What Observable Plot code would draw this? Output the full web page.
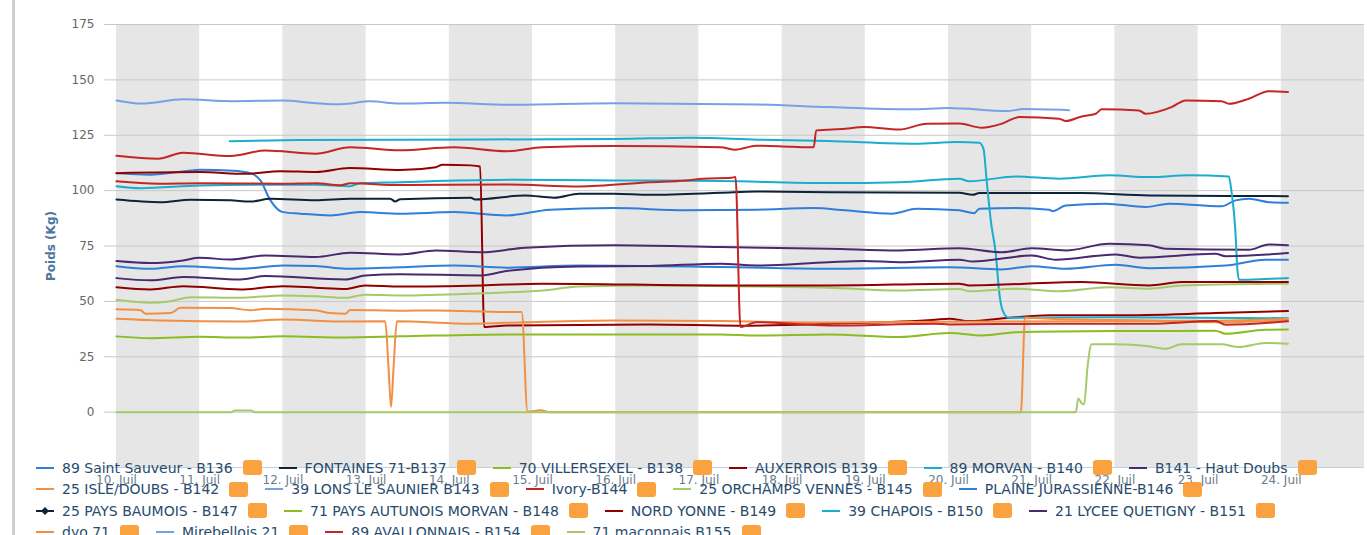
<!DOCTYPE html>
<html><head><meta charset="utf-8">
<script src="https://cdn.jsdelivr.net/npm/d3@7"></script>
<script src="https://cdn.jsdelivr.net/npm/@observablehq/plot@0.6"></script>
<style>
html,body{margin:0;padding:0;background:#fff;width:1367px;height:535px;overflow:hidden;font-family:"DejaVu Sans",sans-serif}
#wrap{position:relative;width:1367px;height:535px}
#border{position:absolute;left:12px;top:0;width:3px;height:535px;background:#cfcfcf}
#chart{position:absolute;left:0;top:0}
#legend{position:absolute;left:36px;top:457px;width:1322px;display:flex;flex-wrap:wrap;font-size:14px;color:#274b6d}
.item{display:flex;align-items:center;height:21.5px;margin-right:17px;white-space:nowrap}
.sym{width:18px;height:10px;margin-right:8px;display:block}
.sq{width:19px;height:15px;border-radius:3px;background:#f9a23f;margin-left:10px}
g[aria-label="y-axis label"] text{fill:#4d759e;font-weight:bold;font-size:12px}
</style>
</head><body>
<div id="wrap"><div id="border"></div><div id="chart"></div><div id="legend"></div></div>
<script>
// ---- series names / colours (legend order) ----
const seriesNames = ["89 Saint Sauveur - B136","FONTAINES 71-B137","70 VILLERSEXEL - B138","AUXERROIS B139","89 MORVAN - B140","B141 - Haut Doubs","25 ISLE/DOUBS - B142","39 LONS LE SAUNIER B143","Ivory-B144","25 ORCHAMPS VENNES - B145","PLAINE JURASSIENNE-B146","25 PAYS BAUMOIS - B147","71 PAYS AUTUNOIS MORVAN - B148","NORD YONNE - B149","39 CHAPOIS - B150","21 LYCEE QUETIGNY - B151","dyo 71","Mirebellois 21","89 AVALLONNAIS - B154","71 maconnais B155"];
const seriesColors = ["#2f7ed8","#0d233a","#8bbc21","#910000","#1aadce","#492970","#f28f43","#77a1e5","#c42525","#a6c96a","#2f7ed8","#0d233a","#8bbc21","#910000","#1aadce","#492970","#f28f43","#77a1e5","#c42525","#a6c96a"];

// ---- values: [days since 10 Juil 00:00, kg] ----
const b136 = [[0,107.9],[0.4,107.2],[0.9,109.1],[1.0,109.4],[1.4,109.0],[1.61,107.9],[1.73,104.6],[1.85,95.6],[2.0,90.3],[2.21,89.6],[2.57,88.8],[2.93,90.3],[3.41,89.6],[4.06,90.3],[4.69,88.8],[5.21,91.4],[5.98,92.1],[6.84,91.1],[7.69,91.4],[8.38,92.1],[8.76,91.1],[9.32,89.6],[9.62,91.8],[10.13,91.1],[10.31,89.8],[10.37,91.8],[10.81,92.1],[11.21,91.4],[11.25,90.7],[11.41,93.3],[11.89,94.1],[12.37,92.6],[12.65,94.1],[13.28,92.9],[13.45,95.6],[13.61,96.3],[13.85,94.8],[14.08,94.5]];
const b137 = [[0,96],[0.53,94.8],[0.89,95.9],[1.37,95.6],[1.61,95.1],[1.85,96.3],[2.39,95.6],[2.81,96.3],[3.29,96.3],[3.35,95.1],[3.41,96.1],[4.26,96.8],[4.31,96.0],[4.91,97.8],[5.26,96.8],[5.56,98.6],[5.98,98.6],[6.41,98.1],[7.26,99.0],[7.69,99.6],[8.56,99.3],[10.13,99.0],[10.29,98.1],[10.37,98.9],[11.6,98.9],[12.41,97.8],[14.08,97.5]];
const b138 = [[0,34.2],[0.41,33.4],[1.0,34.0],[1.49,33.7],[2.0,34.2],[2.75,33.7],[3.41,34.2],[4.69,35.1],[5.98,35.1],[7.26,35.1],[7.69,34.6],[8.56,35.1],[9.41,33.9],[10.01,35.7],[10.41,34.6],[10.81,36.1],[12.01,36.6],[13.21,36.7],[13.33,35.4],[13.81,37.2],[14.08,37.3]];
const b139 = [[0,107.9],[1.0,108.4],[1.55,107.6],[1.97,108.8],[2.4,108.4],[2.8,110.2],[3.41,109.3],[3.84,110.6],[3.92,111.7],[4.26,111.4],[4.37,110.9],[4.42,38.4],[4.69,39.1],[6.41,39.6],[7.48,39.0],[8.56,39.9],[9.84,41.7],[10.01,42.2],[10.25,41.1],[10.73,42.6],[11.21,43.7],[12.01,43.7],[13.21,44.7],[14.08,45.6]];
const b140 = [[1.36,122.3],[2.2,122.8],[3.4,123.0],[6.0,123.3],[6.9,123.9],[7.7,123.0],[8.55,122.4],[9.6,121.2],[10.1,121.9],[10.37,121.6],[10.42,119],[10.46,104],[10.51,86],[10.57,71],[10.61,54],[10.65,46],[10.72,42.6],[12,42.8],[13,42.6],[14.08,42.4]];
const b141 = [[0,68.2],[0.41,67.3],[0.8,68.5],[1.0,69.7],[1.37,68.9],[1.79,70.7],[2.39,70.0],[2.81,72.0],[3.41,71.2],[3.84,73.0],[4.39,72.2],[4.91,74.2],[5.98,75.3],[7.26,74.5],[8.56,73.8],[9.41,73.0],[10.13,74.0],[10.64,72.2],[11.0,74.0],[11.41,73.0],[11.93,76.0],[12.41,75.3],[12.61,73.8],[13.61,73.3],[13.85,75.7],[14.08,75.3]];
const b142 = [[0,42.2],[0.53,41.4],[1.49,40.9],[2.0,41.8],[2.69,40.9],[3.23,41.0],[3.27,20],[3.30,2.3],[3.33,20],[3.37,41.0],[4.26,39.9],[4.91,40.6],[5.98,41.4],[7.26,41.1],[8.5,40.5],[10,40.8],[11.5,41.0],[13.0,41.2],[14.08,42.0]];
const b143 = [[0,140.7],[0.3,139.3],[0.8,141.2],[1.4,140.4],[2.0,140.7],[2.4,139.5],[2.7,139.0],[3.05,140.3],[3.4,139.3],[3.95,139.7],[4.7,138.8],[6.0,139.5],[7.7,138.9],[8.55,137.7],[9.55,136.7],[10.0,137.3],[10.7,135.9],[10.9,136.8],[11.45,136.3]];
const b144 = [[0,115.7],[0.5,114.4],[0.8,117.1],[1.37,115.6],[1.79,118.1],[2.39,116.7],[2.81,119.6],[3.41,118.2],[4.05,119.6],[4.69,117.8],[5.12,119.6],[5.98,120.1],[7.26,119.6],[7.44,118.5],[7.69,120.3],[8.12,119.8],[8.38,119.6],[8.41,127.2],[8.76,127.9],[8.98,128.7],[9.41,127.6],[9.74,130.2],[10.13,130.3],[10.4,128.4],[10.64,130.2],[10.85,133.2],[11.33,132.5],[11.41,131.4],[11.6,133.5],[11.77,134.7],[11.84,136.7],[12.29,136.2],[12.37,134.7],[12.68,137.7],[12.85,140.7],[13.28,140.4],[13.37,139.2],[13.61,141.5],[13.85,144.9],[14.08,144.5]];
const b145 = [[0,50.7],[0.41,49.4],[0.65,50.1],[0.89,51.9],[1.49,51.6],[2.0,52.7],[2.39,52.3],[2.75,51.6],[2.99,53.0],[3.41,52.7],[4.39,53.7],[5.12,54.9],[5.56,56.7],[6.41,57.2],[7.69,56.7],[8.56,56.2],[9.41,54.9],[10.13,55.6],[10.25,54.6],[10.81,55.7],[11.33,54.6],[11.93,56.4],[12.41,55.7],[12.8,57.2],[14.08,58]];
const b146 = [[0,65.9],[0.41,64.7],[0.8,65.9],[1.49,64.7],[2.0,66.2],[2.39,66.0],[2.75,64.7],[3.41,65.4],[4.05,66.2],[4.69,65.2],[5.56,66.2],[7.26,65.5],[8.56,64.7],[10.01,65.4],[10.64,64.4],[11.0,65.9],[11.41,64.7],[12.01,66.5],[12.41,65.0],[13.33,66.2],[13.81,68.8],[14.08,68.8]];
const b147 = [];
const b148 = [];
const b149 = [[0,56.4],[0.41,55.4],[0.8,56.8],[1.49,55.4],[2.0,56.8],[2.39,56.2],[2.75,55.6],[2.99,57.2],[3.41,56.7],[4.39,57.2],[5.12,58.0],[7.26,57.2],[8.56,57.2],[10.13,58.0],[10.25,57.2],[11.6,58.7],[12.41,57.2],[12.8,58.7],[14.08,58.7]];
const b150 = [[0,102],[0.29,101.1],[1.0,102.3],[2.0,102.7],[2.4,102.7],[2.81,102],[2.93,103.4],[3.41,103.8],[3.84,104.3],[4.82,104.9],[5.98,104.6],[7.26,104.3],[8.56,103.4],[9.41,103.8],[10.13,105.4],[10.25,104.2],[10.81,106.4],[11.33,105.4],[11.93,106.9],[12.41,106.1],[12.89,106.9],[13.37,106.4],[13.40,100],[13.45,80.5],[13.47,65.5],[13.49,59.8],[13.81,60.1],[14.08,60.5]];
const b151 = [[0,60.5],[0.41,59.5],[0.8,61.0],[1.49,59.9],[1.79,61.4],[2.75,59.9],[2.99,61.7],[3.41,62.3],[4.39,61.7],[4.69,63.7],[5.56,65.8],[6.41,66.0],[7.26,67.0],[7.69,66.2],[8.56,67.7],[8.98,68.2],[9.41,67.7],[10.13,68.8],[10.29,68.0],[11.0,70.7],[11.29,68.8],[12.01,71.2],[12.29,69.7],[13.21,71.5],[13.33,70.4],[14.08,71.8]];
const dyo71 = [[0,46.4],[0.29,46.0],[0.35,44.4],[0.65,44.7],[0.77,47.1],[1.37,47.0],[1.61,46.0],[1.79,46.7],[2.39,46.0],[2.57,44.7],[2.75,44.4],[2.81,46.1],[3.41,45.8],[3.84,45.9],[4.69,45.2],[4.87,45.2],[4.94,0.3],[5.1,0.8],[5.2,0],[10.87,0],[10.92,42.6],[11.21,42.2],[12.41,41.4],[13.21,40.6],[14.08,41.4]];
const mirebellois21 = [];
const b154 = [[0,104.2],[0.5,103.1],[1.0,103.3],[2.0,103.1],[2.4,103.3],[2.69,102.4],[2.81,103.3],[3.41,102.5],[4.69,102.8],[5.56,101.9],[6.41,103.8],[6.84,104.6],[7.05,105.4],[7.39,105.8],[7.44,106.2],[7.50,38.4],[7.69,40.6],[8.56,39.1],[9.84,39.9],[10.01,39.6],[11.21,39.9],[12.41,39.9],[13.21,41.1],[13.33,39.4],[14.08,41.0]];
const b155 = [[0,0],[1.38,0],[1.42,0.7],[1.62,0.7],[1.66,0],[11.53,0],[11.56,6.2],[11.6,4],[11.63,3.5],[11.67,20],[11.72,30.6],[12.01,30.6],[12.41,29.7],[12.61,28.6],[12.8,30.6],[13.28,30.6],[13.49,29.4],[13.81,31.2],[14.08,30.9]];

const seriesData = [b136,b137,b138,b139,b140,b141,b142,b143,b144,b145,b146,b147,b148,b149,b150,b151,dyo71,mirebellois21,b154,b155];

// ---- axes ----
const yTicks = [0,25,50,75,100,125,150,175];
const xTickDays = [10,11,12,13,14,15,16,17,18,19,20,21,22,23,24];
const xTickLabels = ["10. Juil","11. Juil","12. Juil","13. Juil","14. Juil","15. Juil","16. Juil","17. Juil","18. Juil","19. Juil","20. Juil","21. Juil","22. Juil","23. Juil","24. Juil"];
const bandStartDays = [10,12,14,16,18,20,22,24];

const DAY = 864e5;
const t0 = Date.UTC(2014,6,10);
const rows = seriesData.flatMap((arr,i)=>arr.map(([d,v])=>({name:seriesNames[i], t:new Date(t0 + d*DAY), v})));
const bands = bandStartDays.map(d=>({a:new Date(Date.UTC(2014,6,d)), b:new Date(Date.UTC(2014,6,d+1))}));
const xTickDates = xTickDays.map(d=>new Date(Date.UTC(2014,6,d)));

const chart = Plot.plot({
  width:1367, height:535,
  marginLeft:104, marginRight:3, marginTop:24, marginBottom:68,
  style:{fontFamily:"DejaVu Sans", fontSize:"12px", background:"transparent"},
  x:{type:"utc", domain:[new Date(t0 - 0.144*DAY), new Date(Date.UTC(2014,6,25))]},
  y:{domain:[-25,175]},
  color:{domain:seriesNames, range:seriesColors},
  marks:[
    Plot.rect(bands,{x1:"a", x2:"b", fill:"#e6e6e6"}),
    Plot.gridY(yTicks,{stroke:"#c8c8c8", strokeOpacity:1}),
    Plot.ruleY([-25],{stroke:"#c0d0e0"}),
    Plot.line(rows,{x:"t", y:"v", z:"name", stroke:"name", strokeWidth:2, curve:"monotone-x"}),
    Plot.axisY(yTicks,{tickSize:0, tickPadding:10, fill:"#666", label:"Poids (Kg)", labelAnchor:"center", labelArrow:"none", labelOffset:58}),
    Plot.axisX(xTickDates,{tickSize:0, tickPadding:8, fill:"#6b7c8d", label:null, tickFormat:d=>xTickLabels[xTickDays.indexOf(d.getUTCDate())]})
  ]
});
document.getElementById("chart").appendChild(chart);

// ---- legend ----
const legend = document.getElementById("legend");
seriesNames.forEach((n,i)=>{
  const it = document.createElement("div"); it.className="item";
  const c = seriesColors[i];
  const marker = n.indexOf("B147")>=0 ? `<path d="M9 1 L13 5 L9 9 L5 5 Z" fill="${c}"/>` : "";
  it.innerHTML = `<svg class="sym" viewBox="0 0 18 10"><line x1="0" y1="5" x2="18" y2="5" stroke="${c}" stroke-width="2"/>${marker}</svg><span>${n}</span><div class="sq"></div>`;
  legend.appendChild(it);
});
</script>
</body></html>
